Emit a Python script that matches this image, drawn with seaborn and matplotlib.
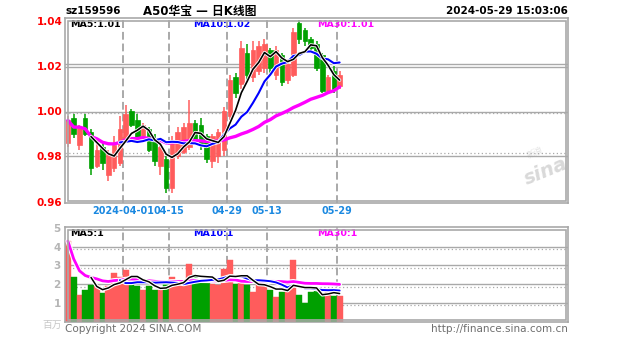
import numpy as np
import pandas as pd
import matplotlib
matplotlib.use("Agg")
import matplotlib.pyplot as plt
import matplotlib.patheffects as pe
from matplotlib.patches import Rectangle
import seaborn as sns

# ---- daily data for sz159596 (price in CNY, volume in millions) ----
dates = ["03-18", "03-19", "03-20", "03-21", "03-22", "03-25", "03-26", "03-27",
         "03-28", "03-29", "04-01", "04-02", "04-03", "04-08", "04-09", "04-10",
         "04-11", "04-12", "04-15", "04-16", "04-17", "04-18", "04-19", "04-22",
         "04-23", "04-24", "04-25", "04-26", "04-29", "04-30", "05-06", "05-07",
         "05-08", "05-09", "05-10", "05-13", "05-14", "05-15", "05-16", "05-17",
         "05-20", "05-21", "05-22", "05-23", "05-24", "05-27", "05-28", "05-29"]
open_ = [0.986, 0.997, 0.985, 0.997, 0.991, 0.976, 0.984, 0.972, 0.975, 0.977,
         0.987, 1.000, 0.996, 0.989, 0.992, 0.988, 0.976, 0.979, 0.966, 0.980,
         0.982, 0.984, 0.995, 0.994, 0.989, 0.978, 0.980, 0.983, 0.998, 1.015,
         1.012, 1.026, 1.015, 1.018, 1.019, 1.027, 1.016, 1.025, 1.014, 1.016,
         1.039, 1.036, 1.032, 1.030, 1.025, 1.009, 1.018, 1.011]
high = [0.998, 0.999, 0.994, 0.999, 0.992, 0.986, 0.986, 0.983, 0.989, 0.998,
        1.003, 1.001, 0.999, 0.995, 0.993, 0.990, 0.988, 0.980, 0.989, 0.993,
        0.995, 1.005, 0.996, 0.997, 0.990, 0.990, 0.992, 1.002, 1.016, 1.017,
        1.031, 1.030, 1.031, 1.031, 1.032, 1.028, 1.029, 1.026, 1.023, 1.037,
        1.0405, 1.037, 1.033, 1.031, 1.026, 1.016, 1.020, 1.018]
low = [0.984, 0.988, 0.983, 0.989, 0.972, 0.975, 0.974, 0.969, 0.973, 0.976,
       0.986, 0.993, 0.987, 0.988, 0.982, 0.976, 0.972, 0.964, 0.964, 0.979,
       0.981, 0.983, 0.985, 0.983, 0.977, 0.975, 0.977, 0.980, 0.996, 1.006,
       1.010, 1.014, 1.013, 1.016, 1.017, 1.017, 1.014, 1.011, 1.012, 1.015,
       1.030, 1.029, 1.026, 1.018, 1.008, 1.008, 1.008, 1.010]
close = [0.996, 0.990, 0.993, 0.990, 0.975, 0.983, 0.977, 0.981, 0.985, 0.992,
         0.999, 0.994, 0.988, 0.994, 0.983, 0.978, 0.984, 0.966, 0.987, 0.991,
         0.993, 0.995, 0.987, 0.985, 0.979, 0.989, 0.991, 1.000, 1.014, 1.008,
         1.028, 1.016, 1.027, 1.029, 1.030, 1.019, 1.027, 1.013, 1.021, 1.035,
         1.032, 1.031, 1.028, 1.019, 1.009, 1.015, 1.010, 1.016]
volume = [4.3, 2.4, 1.45, 1.7, 1.95, 1.9, 1.55, 1.9, 2.6, 2.4,
          2.75, 2.4, 1.9, 1.7, 1.9, 1.7, 1.7, 2.0, 2.4, 2.2,
          2.1, 3.1, 2.5, 2.2, 2.1, 2.0, 1.95, 2.8, 3.3, 2.0,
          2.2, 1.95, 1.6, 2.2, 1.9, 1.7, 1.3, 1.6, 1.8, 3.3,
          1.4, 1.0, 1.6, 1.7, 1.5, 1.6, 1.35, 1.35]

price_ticks = [0.96, 0.98, 1.00, 1.02, 1.04]
price_tick_labels = ["0.96", "0.98", "1.00", "1.02", "1.04"]
vol_ticks = [1, 2, 3, 4, 5]
date_ticks = ["04-01", "04-15", "04-29", "05-13", "05-29"]
date_tick_labels = ["2024-04-01", "04-15", "04-29", "05-13", "05-29"]

symbol = "sz159596"
title = "A50华宝 — 日K线图"
stamp = "2024-05-29 15:03:06"

# ---- styling ----
sns.set_theme(style="white")
plt.rcParams["font.family"] = ["DejaVu Sans", "Noto Sans CJK SC"]

RED = "#ff5c5c"
GREEN = "#00a000"
GRID = "#a9a9a9"
TICK_BLUE = "#1a88e0"

W, H = 627, 342
fig = plt.figure(figsize=(W / 100, H / 100), dpi=100)
fig.patch.set_facecolor("white")


def fx(px):
    return px / W


def fy(py):
    return 1 - py / H


def frame(x0, y0, x1, y1, lw=1.2):
    fig.patches.append(Rectangle((fx(x0), fy(y1)), fx(x1) - fx(x0), fy(y0) - fy(y1),
                                 transform=fig.transFigure, fill=False,
                                 edgecolor=GRID, lw=lw, zorder=5))


df = pd.DataFrame({"date": dates, "open": open_, "high": high, "low": low,
                   "close": close, "volume": volume})
df["x"] = np.arange(len(df)) + 0.5
df["up"] = df["close"] >= df["open"]
df["color"] = np.where(df["up"], RED, GREEN)
for n, mp in ((5, 5), (10, 10), (30, 1)):
    df[f"ma{n}"] = df["close"].rolling(n, min_periods=mp).mean()
    df[f"vma{n}"] = df["volume"].rolling(n, min_periods=mp).mean()

NSLOT = 87.0
ax = fig.add_axes([fx(65), fy(203), fx(568) - fx(65), fy(18) - fy(203)])
axv = fig.add_axes([fx(65), fy(322), fx(568) - fx(65), fy(227) - fy(322)])
for a in (ax, axv):
    a.set_facecolor("white")
    a.set_xlim(0, NSLOT)
    for s in a.spines.values():
        s.set_color(GRID)
        s.set_linewidth(1.2)
    a.tick_params(length=0)
    a.grid(False)

# inner frame lines
frame(67.5, 20.5, 566, 200.5)
frame(67.5, 229.5, 566, 320)

# ---- price panel ----
ax.set_ylim(0.9594, 1.0413)
tick_pos = [dates.index(d) for d in date_ticks]
for p in tick_pos:
    for a in (ax, axv):
        a.axvline(p, color=GRID, lw=1.4, ls=(0, (4, 2)), zorder=1)
for yv in (1.0211, 1.0198, 0.99985):
    ax.axhline(yv, color=GRID, lw=1.0, zorder=1)
ax.axhline(0.9800, color=GRID, lw=1.0, zorder=1)
for yv in (0.9991, 0.9817):
    ax.axhline(yv, color=GRID, lw=0.9, ls=(0, (1, 2)), zorder=1)

ax.vlines(df["x"], df["low"], df["high"], colors=df["color"], lw=1.1, zorder=3)
body_lo = np.minimum(df["open"], df["close"])
body_h = np.maximum((df["close"] - df["open"]).abs(), 0.0004)
ax.bar(df["x"], body_h, bottom=body_lo, width=0.78, color=df["color"],
       edgecolor=df["color"], lw=0.5, zorder=3)

for col, c, lw in (("ma30", "#ff00ff", 2.4), ("ma10", "#0000ff", 1.5), ("ma5", "black", 1.2)):
    d = df[["x", col]].dropna()
    sns.lineplot(data=d, x="x", y=col, ax=ax, color=c, lw=lw, zorder=4,
                 path_effects=[pe.withStroke(linewidth=lw + 1.2, foreground="white")]
                 if col != "ma30" else None)

ax.set_yticks(price_ticks)
ax.set_yticklabels(price_tick_labels, color="red", fontsize=7.5, fontweight="bold")
ax.tick_params(axis="y", pad=2)
ax.set_xticks(tick_pos)
ax.set_xticklabels(date_tick_labels, color=TICK_BLUE, fontsize=6.9, fontweight="bold")
ax.tick_params(axis="x", pad=2.5)
ax.set_xlabel("")
ax.set_ylabel("")

last = df.iloc[-1]
ax.text(0.01, 0.965, f"MA5:{last['ma5']:.2f}", transform=ax.transAxes,
        color="black", fontsize=6.8, fontweight="bold", va="center")
ax.text(0.255, 0.965, f"MA10:{last['ma10']:.2f}", transform=ax.transAxes,
        color="#0000ff", fontsize=6.8, fontweight="bold", va="center")
ax.text(0.501, 0.965, f"MA30:{last['ma30']:.2f}", transform=ax.transAxes,
        color="#ff00ff", fontsize=6.8, fontweight="bold", va="center")

# watermark
ax.text(0.955, 0.17, "sina", transform=ax.transAxes, rotation=22, color="#d9d9d9",
        fontsize=14, fontweight="bold", fontstyle="italic", ha="center", va="center",
        zorder=0)
ax.text(0.935, 0.27, "新浪", transform=ax.transAxes, rotation=22, color="#e2e2e2",
        fontsize=6, ha="center", va="center", zorder=0)

# ---- volume panel ----
axv.set_ylim(-0.016, 5.05)
for yv in vol_ticks[:-1]:
    axv.axhline(yv, color=GRID, lw=1.0, zorder=1)
    axv.axhline(yv - 0.13, color=GRID, lw=0.9, ls=(0, (1, 2)), zorder=1)
axv.bar(df["x"], df["volume"], width=1.0, color=df["color"], edgecolor=df["color"],
        lw=0.3, zorder=2)
for col, c, lw in (("vma30", "#ff00ff", 2.0), ("vma10", "#0000ff", 1.4), ("vma5", "black", 1.1)):
    d = df[["x", col]].dropna()
    sns.lineplot(data=d, x="x", y=col, ax=axv, color=c, lw=lw, zorder=4,
                 path_effects=[pe.withStroke(linewidth=lw + 1.6, foreground="white")])
axv.set_yticks(vol_ticks)
axv.set_yticklabels([str(v) for v in vol_ticks], color="#b5b5b5", fontsize=7.5,
                    fontweight="bold")
axv.tick_params(axis="y", pad=3)
axv.set_xticks([])
axv.set_xlabel("")
axv.set_ylabel("")
axv.text(0.01, 0.93, f"MA5:{int(last['vma5'])}", transform=axv.transAxes,
         color="black", fontsize=6.8, fontweight="bold", va="center")
axv.text(0.255, 0.93, f"MA10:{int(last['vma10'])}", transform=axv.transAxes,
         color="#0000ff", fontsize=6.8, fontweight="bold", va="center")
axv.text(0.501, 0.93, f"MA30:{int(last['vma30'])}", transform=axv.transAxes,
         color="#ff00ff", fontsize=6.8, fontweight="bold", va="center")

# ---- header / footer text ----
fig.text(fx(65), fy(11), symbol, fontsize=7.5, fontweight="bold", color="black",
         ha="left", va="center")
fig.text(fx(200), fy(11), title, fontsize=8.5, fontweight="bold", color="black",
         ha="center", va="center")
fig.text(fx(568), fy(11), stamp, fontsize=7.5, fontweight="bold", color="black",
         ha="right", va="center")
fig.text(fx(62), fy(325), "百万", fontsize=7, color="#c8c8c8", ha="right", va="center")
fig.text(fx(65), fy(329), "Copyright 2024 SINA.COM", fontsize=7.5, color="#6e6e6e",
         ha="left", va="center")
fig.text(fx(568), fy(329), "http://finance.sina.com.cn", fontsize=7.5, color="#6e6e6e",
         ha="right", va="center")

fig.savefig("out.png", dpi=100, facecolor="white")
